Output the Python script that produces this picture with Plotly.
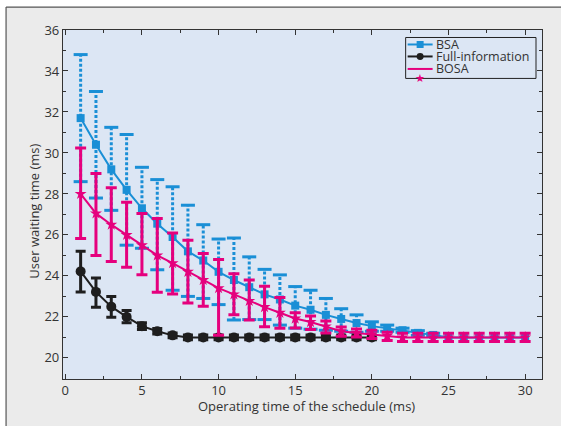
import plotly.graph_objects as go

# ---------------- data ----------------
x_bsa = list(range(1, 31))
bsa_mean = [31.7, 30.4, 29.2, 28.2, 27.3, 26.55, 25.9, 25.2, 24.75, 24.2,
            23.8, 23.45, 23.1, 22.85, 22.55, 22.35, 22.1, 21.9, 21.7, 21.55,
            21.45, 21.35, 21.22, 21.12, 21.0, 21.0, 21.0, 21.0, 21.0, 21.0]
bsa_upper = [34.8, 33.0, 31.25, 30.9, 29.3, 28.7, 28.35, 27.45, 26.5, 25.8,
             25.85, 24.93, 24.32, 24.05, 23.48, 23.3, 22.9, 22.4, 22.1, 21.76,
             21.6, 21.45, 21.33, 21.2]
bsa_lower = [28.6, 27.8, 27.2, 25.5, 25.35, 24.3, 23.3, 23.0, 22.9, 22.6,
             21.85, 21.87, 21.87, 21.6, 21.45, 21.4, 21.35, 21.3, 21.25, 21.3,
             21.3, 21.25, 21.1, 21.05]

x_full = list(range(1, 21))
full_mean = [24.22, 23.22, 22.5, 22.0, 21.55, 21.3, 21.1, 21.0, 21.0, 21.0,
             21.0, 21.0, 21.0, 21.0, 21.0, 21.0, 21.0, 21.0, 21.0, 21.0]
full_plus = [0.98, 0.68, 0.5, 0.31, 0.16, 0.13, 0.12, 0.12, 0.12, 0.12,
             0.12, 0.12, 0.12, 0.12, 0.12, 0.12, 0.12, 0.12, 0.12, 0.12]
full_minus = [1.0, 0.75, 0.52, 0.29, 0.16, 0.13, 0.12, 0.12, 0.12, 0.12,
              0.12, 0.12, 0.12, 0.12, 0.12, 0.12, 0.12, 0.12, 0.12, 0.12]

x_bosa = list(range(1, 31))
bosa_mean = [28.0, 27.05, 26.5, 26.0, 25.5, 25.0, 24.62, 24.2, 23.8, 23.4,
             23.1, 22.78, 22.48, 22.2, 21.92, 21.75, 21.54, 21.3, 21.22, 21.15,
             21.08, 21.0, 21.0, 21.0, 21.0, 21.0, 21.0, 21.0, 21.0, 21.0]
bosa_upper = [30.24, 29.0, 28.3, 27.6, 27.04, 26.8, 26.1, 25.74, 25.1, 24.8,
              24.1, 23.8, 23.5, 22.95, 22.2, 22.05, 21.8, 21.51, 21.41, 21.35,
              21.25, 21.2, 21.2, 21.2, 21.2, 21.2, 21.2, 21.2, 21.2, 21.2]
bosa_lower = [25.83, 25.0, 24.7, 24.42, 24.06, 23.2, 23.12, 22.68, 22.52, 21.1,
              22.1, 21.85, 21.52, 21.45, 21.46, 21.38, 21.22, 21.05, 21.02, 20.95,
              20.85, 20.8, 20.8, 20.8, 20.8, 20.8, 20.8, 20.8, 20.8, 20.8]

x_ticks = [0, 5, 10, 15, 20, 25, 30]
y_ticks = [20, 22, 24, 26, 28, 30, 32, 34, 36]

BLUE = "#1a8fd6"
BLACK = "#1e1e1e"
PINK = "#e5007d"
PLOTBG = "#dce6f4"
TXT = "#333333"
FONT = "Open Sans"

# plot area in pixels
L, R, T, B = 63, 542.5, 30, 379.5
W, H = R - L, B - T


def px(x):
    return (x - L) / W


def py(y):
    return (B - y) / H


fig = go.Figure()

# BSA dashed error bars
ex, ey = [], []
for i in range(len(bsa_upper)):
    ex += [x_bsa[i], x_bsa[i], None]
    ey += [bsa_lower[i], bsa_upper[i], None]
fig.add_trace(go.Scatter(x=ex, y=ey, mode="lines", showlegend=False,
                         line=dict(color=BLUE, width=3, dash="3px,2px"),
                         hoverinfo="skip"))
n = len(bsa_upper)
fig.add_trace(go.Scatter(x=x_bsa[:n] + x_bsa[:n], y=bsa_upper + bsa_lower,
                         mode="markers", showlegend=False, hoverinfo="skip",
                         marker=dict(symbol="line-ew", size=10,
                                     line=dict(color=BLUE, width=3))))
fig.add_trace(go.Scatter(x=x_bsa, y=bsa_mean, mode="lines+markers", name="BSA",
                         showlegend=False,
                         line=dict(color=BLUE, width=2),
                         marker=dict(symbol="square", size=8, color=BLUE)))

# Full-information
fig.add_trace(go.Scatter(x=x_full, y=full_mean, mode="lines+markers",
                         name="Full-information", showlegend=False,
                         line=dict(color=BLACK, width=2),
                         marker=dict(symbol="circle", size=10, color=BLACK),
                         error_y=dict(type="data", symmetric=False,
                                      array=full_plus, arrayminus=full_minus,
                                      color=BLACK, thickness=3, width=5)))

# BOSA
fig.add_trace(go.Scatter(x=x_bosa, y=bosa_mean, mode="lines+markers",
                         name="BOSA", showlegend=False,
                         line=dict(color=PINK, width=2),
                         marker=dict(symbol="star", size=9, color=PINK),
                         error_y=dict(type="data", symmetric=False,
                                      array=[u - m for u, m in zip(bosa_upper, bosa_mean)],
                                      arrayminus=[m - l for m, l in zip(bosa_mean, bosa_lower)],
                                      color=PINK, thickness=3, width=5.5)))

shapes = []
# outer white strips and frame
shapes.append(dict(type="rect", xref="paper", yref="paper", x0=px(-5), x1=px(6),
                   y0=py(440), y1=py(-5), fillcolor="white", line=dict(width=0), layer="below"))
shapes.append(dict(type="rect", xref="paper", yref="paper", x0=px(-5), x1=px(570),
                   y0=py(7), y1=py(-5), fillcolor="white", line=dict(width=0), layer="below"))
shapes.append(dict(type="line", xref="paper", yref="paper", x0=px(6), x1=px(6),
                   y0=py(7), y1=py(440), line=dict(color="#555555", width=1.2)))
shapes.append(dict(type="line", xref="paper", yref="paper", x0=px(6), x1=px(570),
                   y0=py(7), y1=py(7), line=dict(color="#555555", width=1.2)))

# custom legend
lx0, lx1, ly0, ly1 = 406, 536.5, 37.5, 78.5
shapes.append(dict(type="rect", xref="paper", yref="paper", x0=px(lx0), x1=px(lx1),
                   y0=py(ly1), y1=py(ly0), fillcolor=PLOTBG,
                   line=dict(color="#222222", width=1)))
rows = [(44.5, BLUE, "BSA"), (56.5, BLACK, "Full-information"), (69.0, PINK, "BOSA")]
annotations = []
for yy, col, label in rows:
    shapes.append(dict(type="line", xref="paper", yref="paper", x0=px(408), x1=px(433),
                       y0=py(yy), y1=py(yy), line=dict(color=col, width=2)))
    annotations.append(dict(x=px(434.5), y=py(yy), xref="paper", yref="paper",
                            text=label, showarrow=False, xanchor="left", yanchor="middle",
                            font=dict(size=12.5, color=TXT, family=FONT)))
shapes.append(dict(type="rect", xref="paper", yref="paper", x0=px(417), x1=px(424),
                   y0=py(48), y1=py(41), fillcolor=BLUE, line=dict(width=0)))
shapes.append(dict(type="circle", xref="paper", yref="paper", x0=px(417), x1=px(424),
                   y0=py(60), y1=py(53), fillcolor=BLACK, line=dict(width=0)))
annotations.append(dict(x=px(420.5), y=py(78), xref="paper", yref="paper", text="★",
                        showarrow=False, xanchor="center", yanchor="middle",
                        font=dict(size=11, color=PINK)))

# axis titles
annotations.append(dict(x=px(307), y=py(407), xref="paper", yref="paper",
                        text="Operating time of the schedule (ms)", showarrow=False,
                        xanchor="center", yanchor="middle",
                        font=dict(size=13, color=TXT, family=FONT)))
annotations.append(dict(x=px(34), y=py(212), xref="paper", yref="paper",
                        text="User waiting time (ms)", showarrow=False, textangle=-90,
                        xanchor="center", yanchor="middle",
                        font=dict(size=13, color=TXT, family=FONT)))

axis_common = dict(showline=True, linecolor="#333333", linewidth=1.2, mirror="ticks",
                   ticks="inside", ticklen=5, tickcolor="#333333", showgrid=False,
                   zeroline=False, tickfont=dict(size=13, color=TXT, family=FONT))

fig.update_layout(
    width=561, height=426,
    margin=dict(l=L, r=561 - R, t=T, b=426 - B),
    paper_bgcolor="#ebebeb", plot_bgcolor=PLOTBG,
    showlegend=False,
    shapes=shapes, annotations=annotations,
    xaxis=dict(range=[-0.15, 31.1], tickvals=x_ticks, ticklabelstandoff=-1,
               minor=dict(dtick=2.5, tick0=0, ticks="inside", ticklen=3, tickcolor="#333333"),
               **axis_common),
    yaxis=dict(range=[18.97, 36], tickvals=y_ticks,
               minor=dict(dtick=1, tick0=0, ticks="inside", ticklen=3, tickcolor="#333333"),
               **axis_common),
)

fig.write_html("out.html", config={"displayModeBar": False},
               post_script="document.body.style.margin='0px';"
                           "document.documentElement.style.overflow='hidden';")
